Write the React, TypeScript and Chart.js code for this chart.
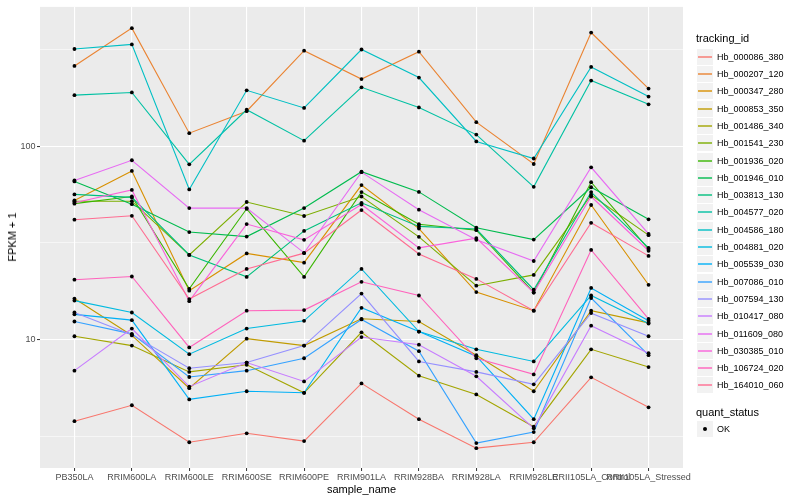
import React, { useEffect, useRef } from "react";
import { Chart, registerables } from "chart.js";

Chart.register(...registerables);

const samples = [
  "PB350LA", "RRIM600LA", "RRIM600LE", "RRIM600SE", "RRIM600PE", "RRIM901LA",
  "RRIM928BA", "RRIM928LA", "RRIM928LE", "RRII105LA_Control", "RRII105LA_Stressed",
];

const seriesNames = [
  "Hb_000086_380", "Hb_000207_120", "Hb_000347_280", "Hb_000853_350", "Hb_001486_340",
  "Hb_001541_230", "Hb_001936_020", "Hb_001946_010", "Hb_003813_130", "Hb_004577_020",
  "Hb_004586_180", "Hb_004881_020", "Hb_005539_030", "Hb_007086_010", "Hb_007594_130",
  "Hb_010417_080", "Hb_011609_080", "Hb_030385_010", "Hb_106724_020", "Hb_164010_060",
];

const seriesColors = [
  "#F8766D", "#EA8331", "#D89000", "#C09B00", "#A3A500", "#7CAE00", "#39B600",
  "#00BB4E", "#00BF7D", "#00C1A3", "#00BFC4", "#00BAE0", "#00B0F6", "#35A2FF",
  "#9590FF", "#C77CFF", "#E76BF3", "#FA62DB", "#FF62BC", "#FF6C91",
];

const hb000086 = [3.78, 4.57, 2.94, 3.27, 2.98, 5.93, 3.87, 2.74, 2.94, 6.37, 4.46];
const hb000207 = [260.6, 409, 117, 152, 312.5, 223, 309, 133.4, 81, 388, 199];
const hb000347 = [52.5, 74.6, 17.9, 27.9, 25.0, 63, 37.5, 17.6, 14.1, 49.7, 19.2];
const hb000853 = [16.3, 10.5, 5.6, 10.1, 9.3, 12.8, 12.4, 8.3, 5.4, 14.1, 12.2];
const hb001486 = [10.4, 9.3, 6.8, 7.4, 5.3, 10.9, 6.5, 5.2, 3.54, 8.9, 7.2];
const hb001541 = [52, 52, 27.4, 51.5, 43.6, 55, 34, 19, 21.6, 56, 34.7];
const hb001936 = [50.5, 55, 18.3, 47.5, 21.1, 58, 39.5, 36.8, 17.5, 65.2, 29.4];
const hb001946 = [65.8, 50.2, 36, 34.1, 47.9, 73.9, 58.1, 37.9, 32.9, 61.4, 41.9];
const hb003813 = [56.4, 54.4, 27.4, 21.1, 36.5, 51, 38.5, 37.3, 18.1, 58, 29.8];
const hb004577 = [184, 190, 80.7, 154.6, 107, 202, 159, 115, 61.7, 219, 165];
const hb004586 = [319, 337, 59.8, 195, 158, 317, 227, 106, 86.5, 257.6, 181];
const hb004881 = [15.9, 13.8, 8.4, 11.4, 12.5, 23.2, 11.0, 8.9, 7.7, 16.9, 12.1];
const hb005539 = [13.5, 12.6, 4.9, 5.4, 5.3, 14.6, 11.0, 8.2, 3.87, 18.5, 12.5];
const hb007086 = [12.4, 10.7, 6.4, 6.9, 8.0, 12.7, 8.7, 2.91, 3.32, 16.4, 8.3];
const hb007594 = [13.8, 10.6, 7.1, 7.6, 9.3, 17.3, 7.7, 6.8, 5.86, 13.7, 10.4];
const hb010417 = [6.9, 11.4, 5.7, 7.6, 6.07, 10.3, 9.4, 6.45, 3.47, 11.8, 8.5];
const hb011609 = [66.6, 84.7, 47.9, 47.9, 28.1, 73.5, 47, 32.8, 25.5, 77.9, 35.2];
const hb030385 = [51, 59.5, 15.8, 39.6, 32.8, 50, 29.8, 33.5, 17.5, 55, 28.8];
const hb106724 = [20.4, 21.2, 9.1, 14.1, 14.2, 19.9, 16.9, 8.0, 6.6, 29.1, 12.8];
const hb164010 = [41.7, 43.7, 16.2, 23.2, 28, 46.8, 27.7, 20.6, 14.1, 40.2, 27.1];

const seriesValues = [
  hb000086, hb000207, hb000347, hb000853, hb001486, hb001541, hb001936, hb001946,
  hb003813, hb004577, hb004586, hb004881, hb005539, hb007086, hb007594, hb010417,
  hb011609, hb030385, hb106724, hb164010,
];

const yTicks = [3.1623, 10, 31.623, 100, 316.23];
const yMajorLabels = ["10", "100"];
const yMin = 2.163;
const yMax = 526.8;

const FONT = '"Liberation Sans", Arial, Helvetica, sans-serif';

const isMajor = (v: number) => Math.abs(Math.log10(v) - Math.round(Math.log10(v))) < 1e-3;

const panelBg = {
  id: "panelBg",
  beforeDraw(chart: any) {
    const { ctx, chartArea } = chart;
    if (!chartArea) return;
    ctx.save();
    ctx.fillStyle = "#EBEBEB";
    ctx.fillRect(chartArea.left, chartArea.top, chartArea.right - chartArea.left, chartArea.bottom - chartArea.top);
    ctx.restore();
  },
};

export default function App() {
  const canvasRef = useRef<HTMLCanvasElement | null>(null);

  useEffect(() => {
    document.body.style.margin = "0";
    const canvas = canvasRef.current;
    if (!canvas) return;

    const lineSets = seriesValues.map((vals, i) => ({
      type: "line" as const,
      label: seriesNames[i],
      data: vals.map((v, j) => ({ x: j, y: v })),
      borderColor: seriesColors[i],
      backgroundColor: seriesColors[i],
      borderWidth: 1.1,
      pointRadius: 0,
      fill: false,
      tension: 0,
      order: 1 + (seriesValues.length - 1 - i),
    }));
    const pointSets = seriesValues.map((vals, i) => ({
      type: "scatter" as const,
      label: seriesNames[i] + " pts",
      data: vals.map((v, j) => ({ x: j, y: v })),
      borderColor: "#000000",
      backgroundColor: "#000000",
      pointRadius: 1.9,
      pointBorderWidth: 0,
      showLine: false,
      order: 0,
    }));

    const chart = new Chart(canvas, {
      type: "line",
      data: { datasets: [...lineSets, ...pointSets] as any },
      options: {
        animation: false,
        responsive: false,
        maintainAspectRatio: false,
        layout: { padding: { left: 0, right: 117, top: 5, bottom: 0 } },
        plugins: { legend: { display: false }, tooltip: { enabled: false }, title: { display: false } },
        scales: {
          x: {
            type: "linear",
            min: -0.6,
            max: 10.6,
            afterBuildTicks: (axis: any) => {
              axis.ticks = samples.map((_, i) => ({ value: i }));
            },
            afterFit: (scale: any) => {
              scale.height = 32;
            },
            ticks: {
              autoSkip: false,
              maxRotation: 0,
              minRotation: 0,
              padding: 1,
              color: "#4D4D4D",
              font: { family: FONT, size: 9 },
              callback: (v: any) => samples[Math.round(Number(v))] ?? "",
            },
            grid: {
              color: "#FFFFFF",
              lineWidth: 1.1,
              drawTicks: true,
              tickLength: 3,
              tickColor: "#333333",
              tickWidth: 1,
            },
            border: { display: false },
          },
          y: {
            type: "logarithmic",
            min: yMin,
            max: yMax,
            afterBuildTicks: (axis: any) => {
              axis.ticks = yTicks.map((v) => ({ value: v }));
            },
            afterFit: (scale: any) => {
              scale.width = 40;
            },
            ticks: {
              autoSkip: false,
              padding: 1.5,
              color: "#4D4D4D",
              font: { family: FONT, size: 9 },
              callback: (v: any) => {
                const n = Number(v);
                if (!isMajor(n)) return "";
                const idx = Math.round(Math.log10(n)) - 1;
                return yMajorLabels[idx] ?? "";
              },
            },
            grid: {
              color: "#FFFFFF",
              lineWidth: (ctx: any) => (ctx.tick && isMajor(ctx.tick.value) ? 1.1 : 0.55),
              drawTicks: true,
              tickLength: 3,
              tickColor: (ctx: any) => (ctx.tick && isMajor(ctx.tick.value) ? "#333333" : "rgba(0,0,0,0)"),
              tickWidth: 1,
            },
            border: { display: false },
          },
        },
      },
      plugins: [panelBg],
    });

    return () => chart.destroy();
  }, []);

  const legendTop = 56.7;
  const legendStep = 17.3;

  return (
    <div style={{ position: "absolute", left: 0, top: 0, width: 800, height: 500, background: "#FFFFFF", fontFamily: FONT }}>
      <canvas ref={canvasRef} width={800} height={500} style={{ position: "absolute", left: 0, top: 0 }} />
      <div
        style={{
          position: "absolute",
          left: 12,
          top: 236.5,
          transform: "translate(-50%, -50%) rotate(-90deg)",
          fontSize: 11,
          color: "#000",
          whiteSpace: "nowrap",
        }}
      >
        FPKM + 1
      </div>
      <div
        style={{
          position: "absolute",
          left: 361.5,
          top: 489,
          transform: "translate(-50%, -50%)",
          fontSize: 11,
          color: "#000",
          whiteSpace: "nowrap",
        }}
      >
        sample_name
      </div>
      <div style={{ position: "absolute", left: 696, top: 38, transform: "translateY(-50%)", fontSize: 11, color: "#000", whiteSpace: "nowrap" }}>
        tracking_id
      </div>
      {seriesNames.map((name, i) => {
        const cy = Math.round(legendTop + i * legendStep);
        return (
          <React.Fragment key={name}>
            <svg width={16} height={16} style={{ position: "absolute", left: 697, top: cy - 8, background: "#F2F2F2" }}>
              <line x1={1} y1={8} x2={15} y2={8} stroke={seriesColors[i]} strokeWidth={1.4} />
            </svg>
            <div
              style={{
                position: "absolute",
                left: 717,
                top: cy,
                transform: "translateY(-50%)",
                fontSize: 9,
                color: "#000",
                whiteSpace: "nowrap",
              }}
            >
              {name}
            </div>
          </React.Fragment>
        );
      })}
      <div style={{ position: "absolute", left: 696, top: 412, transform: "translateY(-50%)", fontSize: 11, color: "#000", whiteSpace: "nowrap" }}>
        quant_status
      </div>
      <svg width={16} height={16} style={{ position: "absolute", left: 697, top: 421, background: "#F2F2F2" }}>
        <circle cx={8} cy={8} r={2} fill="#000" />
      </svg>
      <div style={{ position: "absolute", left: 717, top: 429, transform: "translateY(-50%)", fontSize: 9, color: "#000", whiteSpace: "nowrap" }}>
        OK
      </div>
    </div>
  );
}
